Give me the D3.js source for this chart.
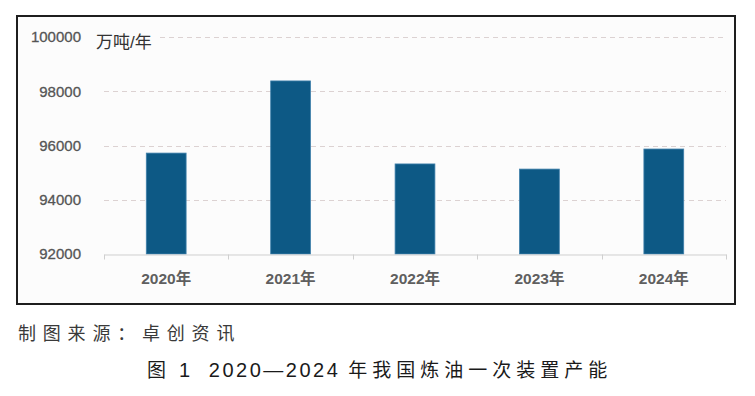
<!DOCTYPE html>
<html>
<head>
<meta charset="utf-8">
<script src="https://cdn.jsdelivr.net/npm/d3@7"></script>
<style>
  body { margin: 0; background: #fff; }
  svg text { font-family: "Liberation Sans", "Noto Sans CJK SC", sans-serif; }
</style>
</head>
<body>
<svg id="chart" width="755" height="396"></svg>
<script>
const years = ['2020年', '2021年', '2022年', '2023年', '2024年'];
const capacity = [95720, 98380, 95320, 95130, 95870];
const yTicks = [92000, 94000, 96000, 98000, 100000];
const unitLabel = '万吨/年';
const sourceText = '制图来源：卓创资讯';
const captionText = '图 1  2020—2024 年我国炼油一次装置产能';

const frame = {x: 17, y: 16, w: 718, h: 288},
  plot = {left: 104, right: 726, top: 37, bottom: 254};

const svg = d3.select('#chart');

svg.append('rect')
  .attr('x', frame.x).attr('y', frame.y)
  .attr('width', frame.w).attr('height', frame.h)
  .attr('fill', '#fcfcfc')
  .attr('stroke', '#1e1e1e')
  .attr('stroke-width', 2);

const x = d3.scaleBand()
  .domain(years)
  .range([plot.left, plot.right])
  .paddingInner(0.68)
  .paddingOuter(0.34);

const y = d3.scaleLinear()
  .domain([92000, 100000])
  .range([plot.bottom, plot.top]);

// grid lines
svg.append('g')
  .selectAll('line')
  .data(yTicks.filter(d => d > 92000))
  .enter()
  .append('line')
  .attr('x1', d => d === 100000 ? 160 : plot.left)
  .attr('x2', plot.right)
  .attr('y1', d => Math.round(y(d)) + 0.5)
  .attr('y2', d => Math.round(y(d)) + 0.5)
  .attr('stroke', '#dcd2d2')
  .attr('stroke-dasharray', '5,4');

// y labels
svg.append('g')
  .selectAll('text')
  .data(yTicks)
  .enter()
  .append('text')
  .attr('x', 81)
  .attr('y', d => y(d))
  .attr('dy', '0.36em')
  .attr('text-anchor', 'end')
  .attr('font-size', 15)
  .attr('fill', '#555')
  .attr('stroke', '#555')
  .attr('stroke-width', 0.3)
  .text(d => d);

svg.append('text')
  .attr('x', 96)
  .attr('y', 42)
  .attr('dy', '0.36em')
  .attr('font-size', 17)
  .attr('fill', '#333')
  .attr('font-family', '"Noto Sans CJK SC", sans-serif')
  .text(unitLabel);

// bars
svg.append('g')
  .selectAll('rect')
  .data(capacity)
  .enter()
  .append('rect')
  .attr('x', (d, i) => x(years[i]))
  .attr('width', x.bandwidth())
  .attr('y', d => y(d))
  .attr('height', d => y(92000) - y(d))
  .attr('fill', '#0d5985')
  .attr('stroke', '#3f80ab')
  .attr('stroke-width', 0.8);

// x axis
const xAxis = d3.axisBottom(x).tickSize(0).tickPadding(18);
const gx = svg.append('g')
  .attr('transform', `translate(0,${plot.bottom + 0.5})`)
  .call(xAxis);
gx.select('.domain').attr('stroke', '#cfcfcf');
gx.selectAll('text')
  .attr('font-size', 15.5)
  .attr('font-weight', 'bold')
  .attr('fill', '#5f5f5f')
  .attr('font-family', '"Liberation Sans", "Noto Sans CJK SC", sans-serif');

// band boundary tick marks
const step = x.step();
const bounds = d3.range(years.length + 1).map(i => plot.left + i * step);
gx.selectAll('line.sep')
  .data(bounds)
  .enter()
  .append('line')
  .attr('class', 'sep')
  .attr('x1', d => Math.round(d) + 0.5)
  .attr('x2', d => Math.round(d) + 0.5)
  .attr('y1', 0)
  .attr('y2', 5)
  .attr('stroke', '#cfcfcf');

svg.append('text')
  .attr('x', 18)
  .attr('y', 334)
  .attr('dy', '0.36em')
  .attr('font-size', 18)
  .attr('letter-spacing', 6.8)
  .attr('fill', '#3a3a3a')
  .attr('font-family', '"Noto Sans CJK SC", sans-serif')
  .text(sourceText);

// caption: CJK runs and latin runs in different fonts
const captionParts = captionText.split(/([\u4e00-\u9fff]+)/).filter(s => s.length);
const cap = svg.append('text')
  .attr('x', 147)
  .attr('y', 371)
  .attr('dy', '0.36em')
  .attr('fill', '#1a1a1a')
  .style('white-space', 'pre');
cap.selectAll('tspan')
  .data(captionParts)
  .enter()
  .append('tspan')
  .attr('font-family', s => /[\u4e00-\u9fff]/.test(s) ? '"Noto Sans CJK SC", sans-serif' : '"Liberation Sans", sans-serif')
  .attr('font-size', s => /[\u4e00-\u9fff]/.test(s) ? 19 : 20)
  .attr('letter-spacing', s => /[\u4e00-\u9fff]/.test(s) ? 5 : 2.5)
  .text(s => s);
</script>
</body>
</html>
